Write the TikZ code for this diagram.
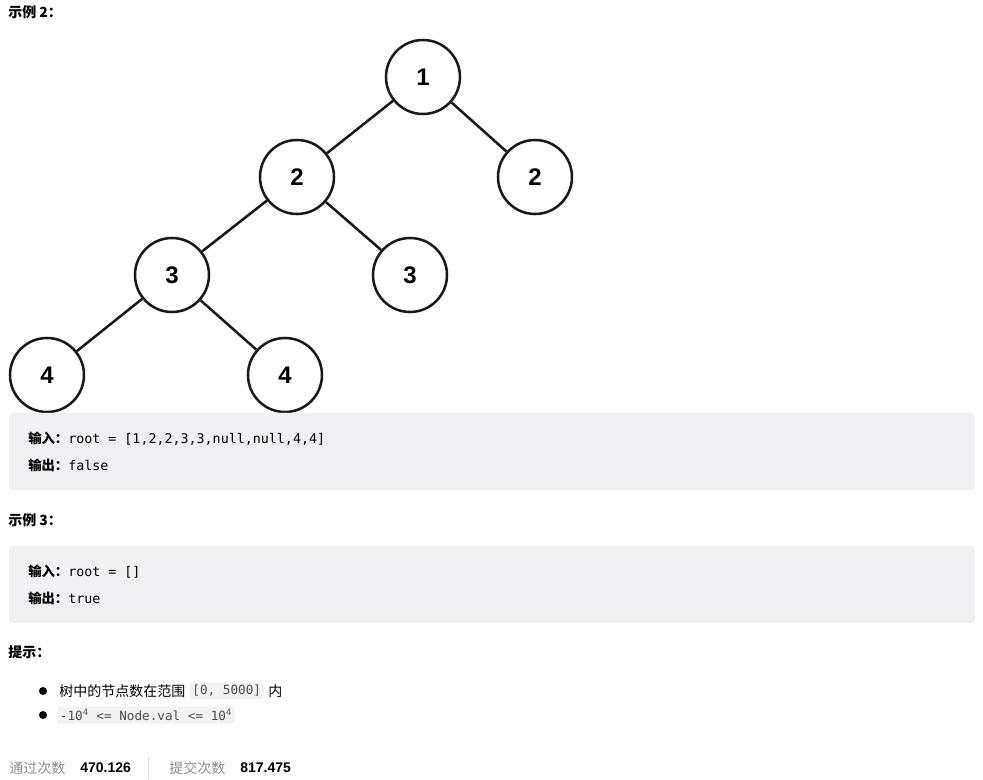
\documentclass[tikz,border=0pt]{standalone}
\usepackage{fontspec}
\setmainfont{Liberation Sans}
\setmonofont{DejaVu Sans Mono}
\newfontfamily\cjk{Noto Sans CJK SC}
\usetikzlibrary{positioning}
\definecolor{boxgray}{HTML}{F0F0F2}
\definecolor{codegray}{HTML}{F2F2F4}
\definecolor{hintgray}{HTML}{8C8C8C}
\tikzset{
  treenode/.style={circle,draw=black!90,line width=1.9pt,minimum size=55.5pt,inner sep=0pt,font=\fontsize{18}{18}\selectfont\bfseries},
  treeedge/.style={draw=black!90,line width=1.9pt},
  plain/.style={anchor=west,inner sep=0pt,font=\fontsize{10.5}{12}\selectfont},
  codeline/.style={anchor=west,inner sep=0pt,font=\fontsize{10}{12}\selectfont},
  inlinecode/.style={anchor=west,inner sep=2pt,fill=codegray,rounded corners=2pt,font=\ttfamily\fontsize{9.5}{11}\selectfont\color{black!70}},
}
\begin{document}
\begin{tikzpicture}[x=0.75pt,y=-0.75pt]
   \useasboundingbox (0,0) rectangle (983,780);
   % tree
   \node[treenode] (r)   at (423,77)  {1};
   \node[treenode] (l)   at (297,177) {2};
   \node[treenode] (rr)  at (535,177) {2};
   \node[treenode] (ll)  at (172,275) {3};
   \node[treenode] (lr)  at (410,275) {3};
   \node[treenode] (lll) at (47,375)  {4};
   \node[treenode] (llr) at (285,375) {4};
   \path[treeedge] (r) -- (l) (r) -- (rr) (l) -- (ll) (l) -- (lr) (ll) -- (lll) (ll) -- (llr);
   % text
   \node[plain] (ex2) at (8,12) {\cjk\bfseries 示例 2：};
   \fill[boxgray,rounded corners=3pt] (9,413) rectangle (975,490);
   \node[codeline] (in2) at (28,439) {{\cjk\bfseries 输入：}\ttfamily root = [1,2,2,3,3,null,null,4,4]};
   \node[codeline] (out2) at (28,465) {{\cjk\bfseries 输出：}\ttfamily false};
   \node[plain] (ex3) at (8,520) {\cjk\bfseries 示例 3：};
   \fill[boxgray,rounded corners=3pt] (9,546) rectangle (975,623);
   \node[codeline] (in3) at (28,572) {{\cjk\bfseries 输入：}\ttfamily root = []};
   \node[codeline] (out3) at (28,598) {{\cjk\bfseries 输出：}\ttfamily true};
   \node[plain] (hint) at (8,652) {\cjk\bfseries 提示：};
   \fill (43,691) circle (3pt) (43,715) circle (3pt);
   \node[plain] (b1) at (59,691) {\cjk 树中的节点数在范围};
   \node[inlinecode,right=3pt of b1] (c1) {[0, 5000]};
   \node[plain,right=3pt of c1] {\cjk 内};
   \node[inlinecode] (c2) at (57,715) {-10\textsuperscript{4} <= Node.val <= 10\textsuperscript{4}};
   % footer
   \node[plain,text=hintgray] (pass) at (9,768) {\cjk 通过次数};
   \node[plain,font=\fontsize{10.5}{12}\selectfont\bfseries] at (80,768) {470.126};
   \draw[black!15] (148,758) -- (148,779);
   \node[plain,text=hintgray] (sub) at (169,768) {\cjk 提交次数};
   \node[plain,font=\fontsize{10.5}{12}\selectfont\bfseries] at (240,768) {817.475};
\end{tikzpicture}
\end{document}
